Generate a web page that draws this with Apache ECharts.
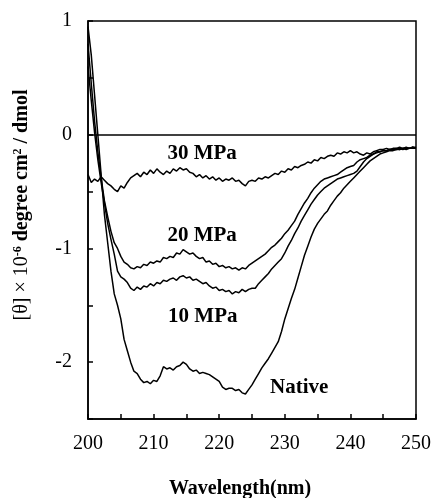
<!DOCTYPE html>
<html>
<head>
<meta charset="utf-8">
<script src="https://cdn.jsdelivr.net/npm/echarts@6/dist/echarts.min.js"></script>
<style>
  html, body { margin: 0; padding: 0; background: #fff; }
  #chart { width: 431px; height: 498px; }
</style>
</head>
<body>
<div id="chart"></div>
<script>
  // wavelength (nm), 0.5 nm steps
  var wavelength = [
    200, 200.5, 201, 201.5, 202, 202.5, 203, 203.5, 204, 204.5,
    205, 205.5, 206, 206.5, 207, 207.5, 208, 208.5, 209, 209.5,
    210, 210.5, 211, 211.5, 212, 212.5, 213, 213.5, 214, 214.5,
    215, 215.5, 216, 216.5, 217, 217.5, 218, 218.5, 219, 219.5,
    220, 220.5, 221, 221.5, 222, 222.5, 223, 223.5, 224, 224.5,
    225, 225.5, 226, 226.5, 227, 227.5, 228, 228.5, 229, 229.5,
    230, 230.5, 231, 231.5, 232, 232.5, 233, 233.5, 234, 234.5,
    235, 235.5, 236, 236.5, 237, 237.5, 238, 238.5, 239, 239.5,
    240, 240.5, 241, 241.5, 242, 242.5, 243, 243.5, 244, 244.5,
    245, 245.5, 246, 246.5, 247, 247.5, 248, 248.5, 249, 249.5,
    250
  ];

  var native = [
    0.95, 0.70, 0.35, 0.00, -0.35, -0.70, -0.95, -1.20, -1.40, -1.50,
    -1.62, -1.80, -1.90, -2.00, -2.08, -2.10, -2.15, -2.18, -2.17, -2.19,
    -2.16, -2.17, -2.12, -2.04, -2.06, -2.05, -2.07, -2.04, -2.03, -2.00,
    -2.02, -2.06, -2.08, -2.07, -2.10, -2.09, -2.10, -2.11, -2.13, -2.15,
    -2.17, -2.22, -2.24, -2.23, -2.23, -2.25, -2.24, -2.27, -2.28, -2.24,
    -2.20, -2.15, -2.10, -2.05, -2.01, -1.97, -1.92, -1.87, -1.82, -1.73,
    -1.62, -1.53, -1.44, -1.36, -1.26, -1.16, -1.06, -0.98, -0.90, -0.83,
    -0.78, -0.74, -0.70, -0.67, -0.62, -0.58, -0.54, -0.51, -0.47, -0.44,
    -0.41, -0.38, -0.35, -0.32, -0.29, -0.26, -0.23, -0.21, -0.19, -0.17,
    -0.16, -0.15, -0.14, -0.14, -0.13, -0.13, -0.12, -0.13, -0.12, -0.12,
    -0.12
  ];

  var mpa10 = [
    0.60, 0.30, 0.02, -0.22, -0.42, -0.60, -0.78, -0.92, -1.05, -1.20,
    -1.25, -1.27, -1.30, -1.35, -1.37, -1.34, -1.36, -1.33, -1.34, -1.31,
    -1.33, -1.30, -1.31, -1.28, -1.29, -1.27, -1.26, -1.28, -1.25, -1.24,
    -1.26, -1.25, -1.28, -1.27, -1.29, -1.31, -1.30, -1.33, -1.35, -1.34,
    -1.37, -1.36, -1.38, -1.37, -1.40, -1.38, -1.39, -1.36, -1.38, -1.36,
    -1.35, -1.35, -1.31, -1.28, -1.25, -1.22, -1.18, -1.15, -1.12, -1.09,
    -1.04, -0.98, -0.93, -0.87, -0.82, -0.76, -0.71, -0.66, -0.61, -0.57,
    -0.53, -0.50, -0.47, -0.45, -0.43, -0.41, -0.39, -0.38, -0.37, -0.36,
    -0.35, -0.34, -0.32, -0.28, -0.24, -0.21, -0.19, -0.17, -0.16, -0.15,
    -0.14, -0.14, -0.13, -0.13, -0.12, -0.13, -0.12, -0.12, -0.12, -0.11,
    -0.12
  ];

  var mpa20 = [
    0.80, 0.45, 0.12, -0.15, -0.38, -0.58, -0.72, -0.85, -0.95, -1.00,
    -1.07, -1.12, -1.14, -1.17, -1.18, -1.16, -1.17, -1.14, -1.15, -1.12,
    -1.13, -1.11, -1.12, -1.08, -1.09, -1.07, -1.08, -1.04, -1.05, -1.01,
    -1.03, -1.05, -1.04, -1.07, -1.09, -1.08, -1.12, -1.11, -1.14, -1.13,
    -1.16, -1.15, -1.17, -1.16, -1.18, -1.17, -1.19, -1.17, -1.18, -1.15,
    -1.13, -1.11, -1.09, -1.07, -1.05, -1.02, -0.99, -0.97, -0.94, -0.91,
    -0.87, -0.84, -0.80, -0.76, -0.70, -0.65, -0.60, -0.56, -0.51, -0.47,
    -0.44, -0.41, -0.39, -0.38, -0.37, -0.36, -0.35, -0.33, -0.31, -0.29,
    -0.28, -0.27, -0.24, -0.22, -0.21, -0.20, -0.18, -0.17, -0.15, -0.15,
    -0.14, -0.14, -0.13, -0.13, -0.13, -0.12, -0.13, -0.12, -0.12, -0.11,
    -0.12
  ];

  var mpa30 = [
    -0.35, -0.42, -0.39, -0.41, -0.37, -0.40, -0.43, -0.45, -0.48, -0.50,
    -0.45, -0.47, -0.42, -0.38, -0.36, -0.34, -0.37, -0.33, -0.35, -0.31,
    -0.34, -0.30, -0.33, -0.35, -0.32, -0.34, -0.30, -0.32, -0.29, -0.31,
    -0.30, -0.33, -0.34, -0.37, -0.35, -0.38, -0.36, -0.39, -0.37, -0.40,
    -0.38, -0.41, -0.39, -0.40, -0.38, -0.41, -0.40, -0.43, -0.45, -0.41,
    -0.40, -0.41, -0.38, -0.39, -0.37, -0.38, -0.36, -0.34, -0.35, -0.32,
    -0.33, -0.30, -0.31, -0.28, -0.29, -0.27, -0.26, -0.24, -0.25, -0.22,
    -0.23, -0.20, -0.21, -0.19, -0.18, -0.19, -0.16, -0.17, -0.15, -0.16,
    -0.14, -0.16, -0.15, -0.17, -0.18, -0.16, -0.17, -0.15, -0.14, -0.13,
    -0.13, -0.12, -0.13, -0.12, -0.12, -0.11, -0.12, -0.11, -0.12, -0.11,
    -0.11
  ];

  // curve names and where their labels sit [nm, value]
  var seriesNames = ['30 MPa', '20 MPa', '10 MPa', 'Native'];
  var labelPos = [[217.4, -0.17], [217.4, -0.89], [217.5, -1.60], [232.2, -2.22]];

  var serif = '"Liberation Serif", "Times New Roman", serif';

  function pairs(vals) {
    return wavelength.map(function (w, i) { return [w, vals[i]]; });
  }

  var chart = echarts.init(document.getElementById('chart'), null, { renderer: 'canvas' });

  var allData = [mpa30, mpa20, mpa10, native];
  var series = allData.map(function (vals, k) {
    var s = {
      name: seriesNames[k],
      type: 'line',
      data: pairs(vals),
      showSymbol: false,
      animation: false,
      lineStyle: { color: '#000', width: 1.5 },
      markPoint: {
        symbol: 'circle',
        symbolSize: 0,
        data: [{ coord: labelPos[k], value: seriesNames[k] }],
        label: {
          show: true,
          position: 'inside',
          formatter: seriesNames[k],
          color: '#000',
          fontFamily: serif,
          fontWeight: 'bold',
          fontSize: 21
        }
      }
    };
    if (k === 0) {
      // zero line across the box
      s.markLine = {
        silent: true,
        symbol: 'none',
        label: { show: false },
        lineStyle: { color: '#000', width: 1.5, type: 'solid' },
        data: [{ yAxis: 0 }]
      };
    }
    return s;
  });

  chart.setOption({
    animation: false,
    backgroundColor: '#fff',
    grid: {
      left: 88, right: 15, top: 21, bottom: 79,
      outerBoundsMode: 'none',
      show: true, borderColor: '#000', borderWidth: 1.5
    },
    xAxis: {
      type: 'value',
      min: 200, max: 250, interval: 5,
      name: 'Wavelength(nm)',
      nameLocation: 'middle',
      nameGap: 60,
      nameTextStyle: {
        fontFamily: serif, fontWeight: 'bold', fontSize: 20, color: '#000',
        padding: [0, 24, 0, 0]
      },
      axisLine: { onZero: false, lineStyle: { color: '#000', width: 1.5 } },
      axisTick: { inside: true, length: 5, lineStyle: { color: '#000', width: 1.5 } },
      axisLabel: {
        margin: 15, color: '#000', fontFamily: serif, fontSize: 20,
        formatter: function (v) { return v % 10 === 0 ? String(v) : ''; }
      },
      splitLine: { show: false }
    },
    yAxis: {
      type: 'value',
      min: -2.5, max: 1, interval: 0.5,
      name: '{n|[θ] × 10}{s|-6}{b| degree cm}{s|2}{b| / dmol}',
      nameLocation: 'middle',
      nameGap: 56,
      nameTextStyle: {
        color: '#000',
        padding: [0, 0, 0, 30],
        rich: {
          n: { fontFamily: serif, fontSize: 20, color: '#000' },
          b: { fontFamily: serif, fontSize: 20, fontWeight: 'bold', color: '#000' },
          s: { fontFamily: serif, fontSize: 12, fontWeight: 'bold', color: '#000', verticalAlign: 'top', padding: [0, 0, 8, 0] }
        }
      },
      axisLine: { lineStyle: { color: '#000', width: 1.5 } },
      axisTick: { inside: true, length: 5, lineStyle: { color: '#000', width: 1.5 } },
      axisLabel: {
        margin: 16, color: '#000', fontFamily: serif, fontSize: 20,
        formatter: function (v) { return Number.isInteger(v) ? String(v) : ''; }
      },
      splitLine: { show: false }
    },
    series: series
  });
</script>
</body>
</html>
